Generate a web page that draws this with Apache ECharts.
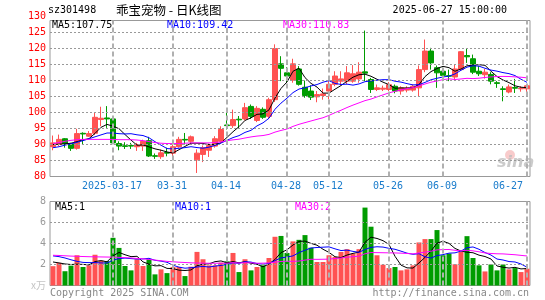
<!DOCTYPE html>
<html>
<head>
<meta charset="utf-8">
<script src="https://cdn.jsdelivr.net/npm/echarts@6/dist/echarts.min.js"></script>
<style>html,body{margin:0;padding:0;background:#fff}#main{width:545px;height:300px}</style>
</head>
<body>
<div id="main"></div>
<script>
// daily K line, sz301498, 2025-03-03 .. 2025-06-27
var year = '2025';
var dates = ['03-03','03-04','03-05','03-06','03-07','03-10','03-11','03-12','03-13','03-14',
  '03-17','03-18','03-19','03-20','03-21','03-24','03-25','03-26','03-27','03-28',
  '03-31','04-01','04-02','04-03','04-07','04-08','04-09','04-10','04-11','04-14',
  '04-15','04-16','04-17','04-18','04-21','04-22','04-23','04-24','04-25','04-28',
  '04-29','04-30','05-06','05-07','05-08','05-09','05-12','05-13','05-14','05-15',
  '05-16','05-19','05-20','05-21','05-22','05-23','05-26','05-27','05-28','05-29',
  '05-30','06-03','06-04','06-05','06-06','06-09','06-10','06-11','06-12','06-13',
  '06-16','06-17','06-18','06-19','06-20','06-23','06-24','06-25','06-26','06-27'];
var tickDates = ['03-17','03-31','04-14','04-28','05-12','05-26','06-09','06-27'];
var priceLevels = [85, 90, 95, 100, 105, 110, 115, 120, 125];
var volLevels = [2, 4, 6];

var opens = [89.3,90.0,91.8,90.2,88.8,93.5,92.6,93.5,97.8,98.3,
  98.0,90.3,89.6,89.7,89.3,89.5,91.2,86.5,86.2,87.5,
  87.3,89.3,91.6,91.0,85.2,86.9,88.2,89.5,91.0,96.1,
  95.9,97.9,98.0,101.9,97.5,101.0,98.8,104.0,115.2,112.4,
  110.1,113.6,107.9,106.7,104.9,105.3,106.7,108.8,109.8,109.8,
  109.8,110.5,112.7,110.3,107.2,107.3,107.2,108.2,106.7,107.0,
  107.0,107.7,113.4,119.2,114.0,112.9,111.5,111.1,113.4,117.8,
  116.8,112.9,111.8,111.9,109.3,107.4,106.4,107.8,107.4,107.4];
var closes = [90.5,91.6,90.2,88.8,93.4,93.3,93.4,98.5,98.2,98.0,
  90.5,89.5,89.4,89.5,90.0,91.0,86.4,86.3,87.4,87.3,
  89.3,91.6,91.4,92.4,87.3,89.0,89.7,91.8,94.7,95.9,
  97.8,97.7,101.5,98.8,101.3,98.5,104.0,120.0,113.8,111.4,
  115.2,108.8,105.3,104.8,105.6,105.8,108.8,111.4,110.5,112.4,
  112.1,112.6,112.3,107.2,107.7,107.6,108.7,106.7,107.7,107.6,
  108.2,113.4,119.2,115.5,112.4,111.6,111.35,113.6,119.0,117.4,
  112.6,112.1,112.6,109.8,109.1,107.2,108.0,107.6,107.6,108.35];
var lows = [88.2,89.5,89.0,88.0,88.4,90.0,92.4,93.0,95.7,95.2,
  90.3,88.2,88.6,88.6,88.0,88.0,86.1,85.5,85.5,86.3,
  85.8,89.0,90.0,90.0,81.1,84.5,86.1,89.0,90.5,94.7,
  95.2,95.2,97.5,98.0,97.0,98.0,98.0,103.3,109.8,109.3,
  109.3,108.4,104.6,103.9,103.2,104.0,104.1,108.2,108.5,108.8,
  109.3,109.3,109.8,106.1,106.7,106.7,106.7,106.0,105.6,106.3,
  106.5,105.1,112.6,113.4,107.7,109.8,109.8,110.3,113.0,115.5,
  112.0,111.4,110.6,108.8,107.7,103.5,106.0,106.1,106.5,105.0];
var highs = [92.8,93.1,92.0,90.5,94.9,93.8,94.2,100.0,101.8,102.0,
  98.3,91.0,90.7,90.5,90.5,91.5,92.4,87.2,88.4,89.0,
  90.0,92.4,93.6,92.8,88.5,89.7,90.3,92.6,95.7,99.9,
  100.9,98.9,103.0,102.5,102.0,101.6,104.6,121.3,117.6,114.2,
  116.8,114.5,110.0,108.5,106.7,107.5,109.8,112.9,112.9,114.5,
  114.8,115.7,125.6,110.8,108.75,108.4,109.5,108.75,108.2,108.2,
  108.7,114.7,122.8,120.2,114.7,114.0,113.4,115.0,119.2,120.0,
  118.1,114.5,113.6,112.6,109.8,108.2,108.75,110.5,108.2,108.6];

var ma5 = [90.0,90.1,90.2,90.4,90.9,91.46,91.82,93.48,95.36,96.28,
  95.72,94.94,93.12,91.38,89.78,89.88,89.26,88.64,88.22,87.68,
  87.34,88.38,89.4,90.4,90.4,90.34,89.96,90.04,90.5,92.22,
  93.98,95.58,97.52,98.34,99.42,99.56,100.82,104.52,107.52,109.54,
  112.88,113.84,110.9,109.1,107.94,106.06,106.06,107.28,108.42,109.78,
  111.04,111.8,111.98,111.32,110.38,109.48,108.7,107.58,107.68,107.66,
  107.78,108.72,111.22,112.78,113.74,114.42,114.01,112.89,113.59,114.59,
  114.79,114.94,114.74,112.9,111.24,110.16,109.34,108.34,107.9,107.75];
var ma10 = [89.0,89.3,89.8,90.2,90.7,91.2,91.8,92.4,93.0,93.59,
  93.59,93.38,93.3,93.37,93.03,92.8,92.1,90.88,89.8,88.73,
  88.61,88.82,89.02,89.31,89.04,88.84,89.17,89.72,90.45,91.31,
  92.16,92.77,93.78,94.42,95.82,96.77,98.2,101.02,102.93,104.48,
  106.22,107.33,107.71,108.31,108.74,109.47,109.95,109.09,108.76,108.86,
  108.55,108.93,109.63,109.87,110.08,110.26,110.25,109.78,109.5,109.02,
  108.63,108.71,109.4,110.23,110.7,111.1,111.37,112.06,113.19,114.17,
  114.61,114.48,113.82,113.25,112.92,112.47,112.14,111.54,110.4,109.42];
var ma30 = [90.3,90.6,91.0,91.3,91.5,91.6,91.6,91.6,91.6,91.6,
  91.6,91.5,91.5,91.5,91.4,91.2,90.9,90.6,90.4,90.3,
  90.3,90.3,90.4,90.5,90.5,90.5,90.5,90.6,90.8,91.21,
  91.45,91.66,92.03,92.37,92.63,92.8,93.16,93.87,94.39,94.84,
  95.66,96.31,96.84,97.35,97.87,98.36,99.11,99.94,100.71,101.55,
  102.31,103.01,103.71,104.2,104.88,105.5,106.13,106.63,107.06,107.45,
  107.8,108.32,108.91,109.47,109.84,110.28,110.52,110.31,110.48,110.68,
  110.6,110.71,110.95,111.12,111.23,111.28,111.25,111.13,111.03,110.83];

var volumes = [1.84,2.16,1.36,1.89,2.88,1.76,1.92,2.93,2.37,2.32,
  4.54,3.58,1.86,1.44,2.5,1.86,2.5,1.06,1.54,1.18,
  1.76,1.76,0.9,1.79,3.2,2.5,1.92,1.92,2.18,2.3,
  3.1,1.28,2.5,1.44,1.76,1.92,2.62,4.64,4.72,3.1,
  4.2,4.35,4.8,3.6,2.24,2.24,2.88,2.72,3.2,3.46,
  3.04,3.46,7.42,5.6,2.88,1.98,1.66,1.76,1.44,1.54,
  1.92,4.1,4.42,4.42,5.28,2.88,3.04,2.02,3.2,4.7,
  2.62,1.92,1.34,2.0,1.44,2.0,1.54,1.66,1.28,1.6];
var vma5 = [2.24,2.15,2.05,2.0,2.03,2.01,1.96,2.28,2.37,2.26,
  2.82,3.15,2.93,2.75,2.78,2.25,2.03,1.87,1.89,1.63,
  1.61,1.46,1.43,1.48,1.88,2.03,2.06,2.27,2.34,2.16,
  2.28,2.16,2.27,2.12,2.02,1.78,2.05,2.48,3.13,3.40,
  3.86,4.20,4.23,4.01,3.84,3.45,3.15,2.74,2.66,2.90,
  3.06,3.18,4.12,4.60,4.48,4.27,3.91,2.78,1.94,1.68,
  1.66,2.15,2.68,3.28,4.03,4.22,4.01,3.53,3.28,3.17,
  3.12,2.89,2.76,2.52,1.86,1.74,1.66,1.73,1.58,1.62];
var vma10 = [2.82,2.75,2.62,2.45,2.3,2.2,2.18,2.18,2.15,2.14,
  2.41,2.56,2.61,2.56,2.52,2.53,2.59,2.40,2.32,2.21,
  1.93,1.75,1.65,1.69,1.76,1.82,1.76,1.85,1.91,2.02,
  2.16,2.11,2.27,2.23,2.09,2.03,2.10,2.37,2.63,2.71,
  2.82,3.13,3.36,3.57,3.62,3.65,3.68,3.49,3.33,3.37,
  3.25,3.16,3.43,3.63,3.69,3.66,3.54,3.45,3.27,3.08,
  2.97,3.03,2.73,2.61,2.85,2.94,3.08,3.11,3.28,3.60,
  3.67,3.45,3.14,2.90,2.52,2.43,2.28,2.24,2.05,1.74];
var vma30 = [2.88,2.86,2.83,2.80,2.78,2.76,2.74,2.73,2.72,2.71,
  2.70,2.68,2.66,2.62,2.58,2.54,2.48,2.42,2.36,2.30,
  2.26,2.22,2.19,2.16,2.14,2.13,2.12,2.12,2.12,2.12,
  2.17,2.14,2.17,2.16,2.12,2.13,2.15,2.21,2.29,2.31,
  2.30,2.33,2.42,2.50,2.49,2.50,2.51,2.57,2.62,2.70,
  2.74,2.80,3.02,3.14,3.13,3.12,3.11,3.10,3.08,3.05,
  3.01,3.11,3.17,3.27,3.39,3.42,3.43,3.35,3.30,3.35,
  3.30,3.21,3.10,3.05,3.02,3.01,2.97,2.93,2.87,2.81];

var maLabels = ['MA5:107.75', 'MA10:109.42', 'MA30:110.83'];
var volMaLabels = ['MA5:1', 'MA10:1', 'MA30:2'];

var chart = echarts.init(document.getElementById('main'));
var mono = 'DejaVu Sans Mono';
var RED = '#ff5252', GREEN = '#009c00';
var maColors = ['#000000', '#0000ff', '#ff00ff'];

var candles = dates.map(function (d, i) { return [opens[i], closes[i], lows[i], highs[i]]; });
var tickPos = tickDates.map(function (d) { return dates.indexOf(d); });
function isTick(idx) { return tickPos.indexOf(+idx) >= 0; }

var dotStyle = { color: '#999999', width: 1, type: [2, 2] };
var dashStyle = { color: '#b0b0b0', width: 2, type: [5, 3] };
// grid lines as mark lines on an invisible helper series, kept under the candles
function gridLines(levels, data, xi) {
  var marks = levels.map(function (v) { return { yAxis: v, lineStyle: dotStyle }; })
    .concat(tickDates.map(function (d) { return { xAxis: d, lineStyle: dashStyle }; }));
  return {
    type: 'line', data: data, xAxisIndex: xi, yAxisIndex: xi, z: 1, silent: true,
    symbol: 'none', showSymbol: false, lineStyle: { width: 0, opacity: 0 },
    markLine: { silent: true, symbol: ['none', 'none'], label: { show: false }, animation: false, data: marks }
  };
}
function maLine(name, data, color, xi) {
  return {
    name: name, type: 'line', data: data, xAxisIndex: xi, yAxisIndex: xi,
    symbol: 'none', showSymbol: false, z: 3,
    lineStyle: { width: 1, color: color }, itemStyle: { color: color }
  };
}
function label(text, x, y, color, align, font) {
  return {
    type: 'text', x: x, y: y,
    style: { text: text, fill: color, font: font || ('10px ' + mono),
      textAlign: align || 'left', textVerticalAlign: 'middle' }
  };
}

var option = {
  animation: false,
  // half-pixel tops keep the 1px dotted lines crisp
  grid: [
    { left: 50, top: 20.5, width: 480, height: 156, show: true, borderColor: '#999', borderWidth: 1, backgroundColor: 'transparent' },
    { left: 50, top: 201.5, width: 480, height: 84, show: true, borderColor: '#999', borderWidth: 1, backgroundColor: 'transparent' },
    { left: 50, top: 16.5, width: 480, height: 160 }
  ],
  xAxis: [
    {
      type: 'category', gridIndex: 0, data: dates, boundaryGap: true,
      axisLine: { show: false }, axisTick: { show: false }, splitLine: { show: false },
      axisLabel: {
        interval: isTick, color: '#1a7ccc', fontFamily: mono, fontSize: 10, margin: 5,
        padding: [0, 2, 0, 0],
        formatter: function (v) {
          if (v === tickDates[0]) return year + '-' + v;
          if (v === tickDates[tickDates.length - 1]) return '{e|' + v + '}';
          return v;
        },
        rich: { e: { color: '#1a7ccc', fontFamily: mono, fontSize: 10, padding: [0, 36, 0, 0] } }
      }
    },
    {
      type: 'category', gridIndex: 1, data: dates, boundaryGap: true,
      axisLine: { show: false }, axisTick: { show: false }, axisLabel: { show: false },
      splitLine: { show: false }
    },
    { type: 'category', gridIndex: 2, data: dates, show: false }
  ],
  yAxis: [
    {
      type: 'value', gridIndex: 0, min: 80, max: 128.75,
      axisLine: { show: false }, axisTick: { show: false },
      axisLabel: { show: false }, splitLine: { show: false }
    },
    {
      type: 'value', gridIndex: 1, min: 0, max: 8, interval: 2,
      axisLine: { show: false }, axisTick: { show: false }, splitLine: { show: false },
      axisLabel: {
        color: '#999999', fontFamily: mono, fontSize: 10, margin: 4,
        formatter: function (v) { return v === 0 ? '{u|x万}' : String(v); },
        rich: { u: { color: '#c4c4c4', fontFamily: 'Noto Sans CJK SC', fontSize: 10 } }
      }
    },
    {
      // price scale 80..130 on a grid reaching 4px above the frame, for the labels
      type: 'value', gridIndex: 2, min: 80, max: 130, interval: 5,
      axisLine: { show: false }, axisTick: { show: false }, splitLine: { show: false },
      axisLabel: { color: '#ff0000', fontFamily: mono, fontSize: 10, margin: 4 }
    }
  ],
  series: [
    gridLines(priceLevels, closes, 0),
    gridLines(volLevels, volumes, 1),
    {
      type: 'candlestick', data: candles, xAxisIndex: 0, yAxisIndex: 0, barWidth: 5, z: 2,
      itemStyle: { color: RED, color0: GREEN, borderColor: RED, borderColor0: GREEN, borderWidth: 1 }
    },
    maLine('MA5', ma5, maColors[0], 0),
    maLine('MA10', ma10, maColors[1], 0),
    maLine('MA30', ma30, maColors[2], 0),
    {
      type: 'bar', data: volumes, xAxisIndex: 1, yAxisIndex: 1, barWidth: 5, z: 2,
      itemStyle: { color: function (p) { return closes[p.dataIndex] >= opens[p.dataIndex] ? RED : GREEN; } }
    },
    maLine('VMA5', vma5, maColors[0], 1),
    maLine('VMA10', vma10, maColors[1], 1),
    maLine('VMA30', vma30, maColors[2], 1)
  ],
  graphic: [
    { type: 'circle', shape: { cx: 510, cy: 155, r: 5 }, style: { fill: 'rgba(240,140,140,0.45)' } },
    label('sina', 497, 163, 'rgba(190,190,190,0.8)', 'left', 'italic bold 16px "DejaVu Sans"'),
    label('sz301498', 48, 10, '#000'),
    label('乖宝宠物 - 日K线图', 116, 10, '#000', 'left', '12.5px "Noto Sans CJK SC"'),
    label('2025-06-27 15:00:00', 507, 10, '#000', 'right'),
    label(maLabels[0], 52, 25.5, maColors[0]),
    label(maLabels[1], 167, 25.5, maColors[1]),
    label(maLabels[2], 283, 25.5, maColors[2]),
    label(volMaLabels[0], 55, 207.5, maColors[0]),
    label(volMaLabels[1], 175, 207.5, maColors[1]),
    label(volMaLabels[2], 295, 207.5, maColors[2]),
    label('Copyright 2025 SINA.COM', 50, 293, '#888'),
    label('http://finance.sina.com.cn', 529, 293, '#888', 'right')
  ]
};
chart.setOption(option);
</script>
</body>
</html>
